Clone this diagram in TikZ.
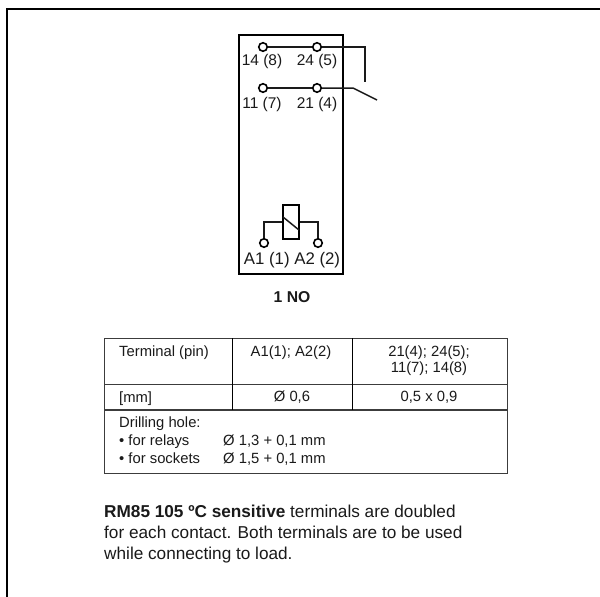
\documentclass[tikz,border=0pt]{standalone}
\usepackage{fontspec}
\setmainfont{Liberation Sans}
\definecolor{ink}{HTML}{1A1A1A}
\definecolor{rule}{HTML}{3C3C3C}
\tikzset{
  x=1pt,y=-1pt,
  wire/.style={draw=ink,line width=1.5pt},
  frameline/.style={draw=black,line width=1.5pt},
  relaybox/.style={draw=black,line width=2.2pt},
  terminal/.style={circle,draw=black,line width=1.6pt,fill=white,minimum size=8.5pt,inner sep=0pt},
  pinlabel/.style={anchor=base,inner sep=0pt,font=\fontsize{15.5}{15.5}\selectfont,text=ink},
  cell/.style={anchor=base,inner sep=0pt,font=\fontsize{14.8}{14.8}\selectfont,text=ink},
  cellw/.style={anchor=base west,inner sep=0pt,font=\fontsize{14.8}{14.8}\selectfont,text=ink},
  para/.style={anchor=base west,inner sep=0pt,font=\fontsize{17.2}{17.2}\selectfont,text=ink},
  tab/.style={draw=rule,line width=1pt},
  tabb/.style={draw=rule,line width=1.8pt},
}
\begin{document}
\begin{tikzpicture}
\useasboundingbox (0,0) rectangle (600,597);
\fill[white] (0,0) rectangle (600,597);
% outer frame
\coordinate (fb) at (7,597);
\coordinate (ftl) at (7,9);
\coordinate (ftr) at (600,9);
\draw[frameline] (fb) -- (ftl) -- (ftr);
% relay
\node[relaybox,minimum width=104pt,minimum height=239.5pt,inner sep=0pt] (relay) at (291,154.5) {};
\coordinate (upb) at (365,47);
\coordinate (upe) at (365,82);
\coordinate (lob) at (353,88);
\coordinate (loe) at (377,100);
\node[terminal] (t14) at (263,47) {};
\node[terminal] (t24) at (317,47) {};
\node[terminal] (t11) at (263,88) {};
\node[terminal] (t21) at (317,88) {};
\draw[wire] (t14) -- (t24);
\draw[wire] (t24) -- (upb) -- (upe);
\draw[wire] (t11) -- (t21);
\draw[wire] (t21) -- (lob) -- (loe);
\node[pinlabel] (l14) at (262,65) {14 (8)};
\node[pinlabel] (l24) at (317,65) {24 (5)};
\node[pinlabel] (l11) at (262,108) {11 (7)};
\node[pinlabel] (l21) at (317,108) {21 (4)};
% coil
\node[draw=black,line width=1.4pt,minimum width=16pt,minimum height=34pt,inner sep=0pt] (coil) at (291,222) {};
\coordinate (cda) at (283,217);
\coordinate (cdb) at (299,230);
\draw[wire] (cda) -- (cdb);
\node[terminal] (ta1) at (264,243) {};
\node[terminal] (ta2) at (318,243) {};
\draw[wire] (coil.west) -| (ta1);
\draw[wire] (coil.east) -| (ta2);
\node[pinlabel,font=\fontsize{16.8}{16.8}\selectfont] (la) at (292,264) {A1 (1) A2 (2)};
\node[pinlabel,font=\bfseries\fontsize{15.7}{15.7}\selectfont] (title) at (292,302) {1 NO};
% table
\coordinate (a) at (104,338); \coordinate (b) at (507,338);
\coordinate (c) at (507,473); \coordinate (d) at (104,473);
\coordinate (r1l) at (104,384); \coordinate (r1r) at (507,384);
\coordinate (r2l) at (104,410); \coordinate (r2r) at (507,410);
\coordinate (v1t) at (232,338); \coordinate (v1b) at (232,410);
\coordinate (v2t) at (352,338); \coordinate (v2b) at (352,410);
\draw[tab] (a) -- (b) -- (c) -- (d) -- cycle;
\draw[tab] (r1l) -- (r1r);
\draw[tabb] (r2l) -- (r2r);
\draw[draw=black,line width=.9pt] (v1t) -- (v1b);
\draw[draw=black,line width=.9pt] (v2t) -- (v2b);
\node[cellw] (c11) at (119,356) {Terminal (pin)};
\node[cell] (c12) at (291,356) {A1(1); A2(2)};
\node[cell] (c13) at (429,356) {21(4); 24(5);};
\node[cell] (c13b) at (429,372) {11(7); 14(8)};
\node[cellw] (c21) at (119,402) {[mm]};
\node[cell] (c22) at (292,401) {Ø 0,6};
\node[cell] (c23) at (429,401) {0,5 x 0,9};
\node[cellw] (c31) at (119,427) {Drilling hole:};
\node[cellw] (c32) at (119,445) {• for relays};
\node[cellw] (c33) at (119,463) {• for sockets};
\node[cellw] (c34) at (223,445) {Ø 1,3 + 0,1 mm};
\node[cellw] (c35) at (223,463) {Ø 1,5 + 0,1 mm};
% paragraph
\node[para] (p1) at (104,517.5) {\textbf{RM85 105 ºC sensitive} terminals are doubled};
\node[para] (p2) at (104,538.5) {for each contact. Both terminals are to be used};
\node[para] (p3) at (104,559.5) {while connecting to load.};
\end{tikzpicture}
\end{document}
